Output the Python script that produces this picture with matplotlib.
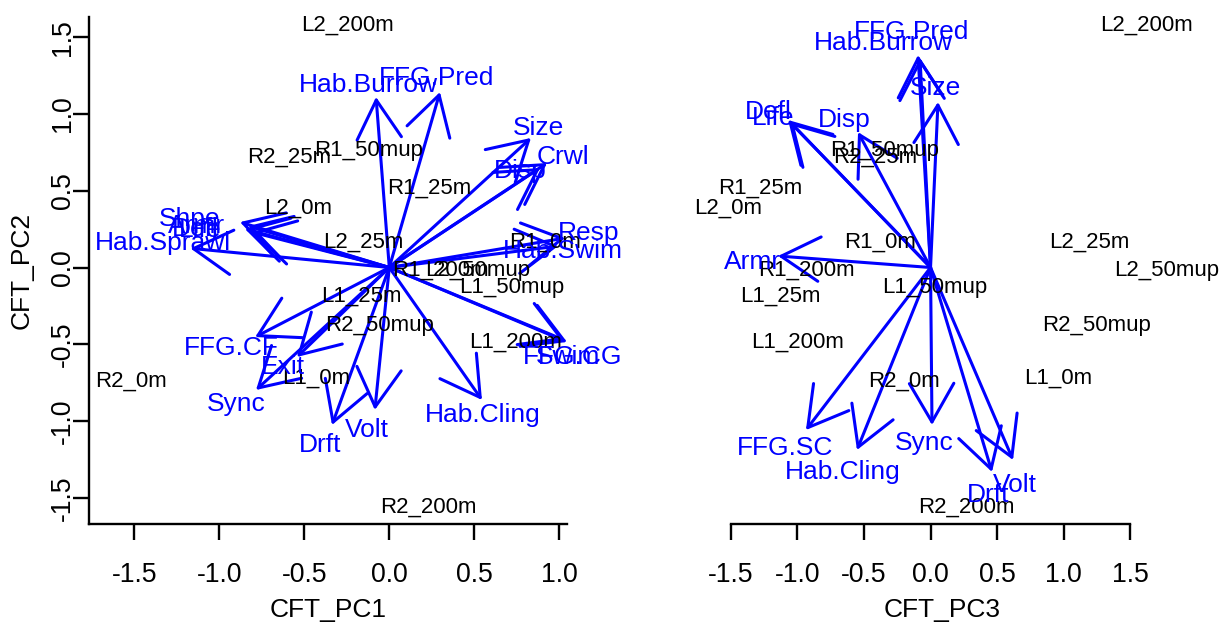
import matplotlib.pyplot as plt
from matplotlib.patches import FancyArrowPatch

plt.rcParams['font.family'] = ['Liberation Sans', 'DejaVu Sans']

# --- Site scores (shared PC2 on y) ---
sites = ["L2_200m", "R1_50mup", "R2_25m", "R1_25m", "L2_0m", "R1_0m", "L2_25m",
         "L2_50mup", "R1_200m", "L1_25m", "L1_50mup", "R2_50mup", "L1_200m",
         "L1_0m", "R2_0m", "R2_200m"]
site_pc1 = [-0.243, -0.119, -0.590, 0.234, -0.537, 0.916, -0.155,
            0.52, 0.30, -0.167, 0.722, -0.055, 0.740, -0.43, -1.519, 0.228]
site_pc2 = [1.580, 0.762, 0.720, 0.518, 0.388, 0.166, 0.166,
            -0.02, -0.02, -0.19, -0.130, -0.375, -0.488, -0.720, -0.739, -1.560]
site_pc3 = [1.617, -0.341, -0.416, -1.279, -1.519, -0.379, 1.189,
            1.774, -0.934, -1.129, 0.034, 1.249, -0.994, 0.956, -0.199, 0.266]

# --- Trait vectors, panel 1 (PC1 vs PC2) ---
traits1 = ["Hab.Burrow", "FFG.Pred", "Size", "Crwl", "Disp", "Resp", "Hab.Swim",
           "FFG.CG", "Swim", "Hab.Cling", "Volt", "Drft", "Sync", "Exit", "FFG.CF",
           "Hab.Sprawl", "Shpe", "Armr", "Life", "Defl"]
tip1_x = [-0.078, 0.298, 0.833, 0.928, 0.886, 1.034, 0.993,
          1.045, 1.028, 0.545, -0.085, -0.337, -0.784, -0.543, -0.789,
          -1.17, -0.878, -0.831, -0.808, -0.849]
tip1_y = [1.111, 1.143, 0.844, 0.681, 0.648, 0.192, 0.140,
          -0.485, -0.472, -0.863, -0.928, -1.026, -0.798, -0.583, -0.453,
          0.125, 0.296, 0.270, 0.231, 0.251]
lab1_x = [-0.126, 0.275, 0.875, 1.021, 0.769, 1.175, 1.022,
          1.08, 1.05, 0.551, -0.132, -0.408, -0.902, -0.625, -0.931,
          -1.331, -1.172, -1.131, -1.113, -1.143]
lab1_y = [1.189, 1.235, 0.909, 0.720, 0.629, 0.225, 0.107,
          -0.583, -0.583, -0.961, -1.059, -1.156, -0.889, -0.648, -0.524,
          0.160, 0.316, 0.270, 0.244, 0.251]

# --- Trait vectors, panel 2 (PC3 vs PC2) ---
traits2 = ["Armr", "Life", "Defl", "Disp", "Size", "Hab.Burrow", "FFG.Pred",
           "FFG.SC", "Hab.Cling", "Sync", "Drft", "Volt"]
tip2_x = [-1.144, -1.054, -1.069, -0.544, 0.056, -0.079, -0.094,
          -0.935, -0.552, 0.011, 0.461, 0.619]
tip2_y = [0.075, 0.948, 0.961, 0.882, 1.078, 1.365, 1.384,
          -1.059, -1.189, -1.026, -1.332, -1.254]
lab2_x = [-1.339, -1.182, -1.219, -0.649, 0.034, -0.356, -0.146,
          -1.092, -0.656, -0.049, 0.431, 0.634]
lab2_y = [0.036, 0.974, 1.013, 0.961, 1.169, 1.463, 1.534,
          -1.176, -1.332, -1.143, -1.482, -1.417]

fig = plt.figure(figsize=(12.28, 6.27), dpi=100)
W, H = 1228, 627
ax1 = fig.add_axes([89 / W, 1 - 524 / H, 478 / W, 507 / H])
ax2 = fig.add_axes([703 / W, 1 - 524 / H, 478 / W, 507 / H])

arrow_style = "->,head_length=0.866,head_width=0.5"


def draw_panel(ax, sx, tx, ty, lx, ly, names):
    for name, x, y in zip(sites, sx, site_pc2):
        ax.text(x, y, name, fontsize=16, ha="center", va="center", color="black")
    for name, x, y, ax_, ay_ in zip(names, tx, ty, lx, ly):
        ax.add_patch(FancyArrowPatch((0, 0), (x, y), arrowstyle=arrow_style,
                                     mutation_scale=32, color="blue", lw=2.2,
                                     shrinkA=0, shrinkB=0, capstyle="round",
                                     joinstyle="round"))
        ax.text(ax_, ay_, name, fontsize=19, ha="center", va="center", color="blue")


draw_panel(ax1, site_pc1, tip1_x, tip1_y, lab1_x, lab1_y, traits1)
draw_panel(ax2, site_pc3, tip2_x, tip2_y, lab2_x, lab2_y, traits2)

# --- Axes styling ---
ax1.set_xlim(-1.766, 1.045)
ax1.set_ylim(-1.671, 1.632)
ax2.set_xlim(-1.707, 1.879)
ax2.set_ylim(-1.671, 1.632)

for ax in (ax1, ax2):
    for s in ("top", "right"):
        ax.spines[s].set_visible(False)
    ax.spines["bottom"].set_linewidth(1.7)
    ax.spines["left"].set_linewidth(1.7)
    ax.tick_params(length=11.5, width=1.7, labelsize=19.2)
    ax.tick_params(axis="x", pad=16)
    ax.tick_params(axis="y", pad=-2)

ax1.set_xticks([-1.5, -1.0, -0.5, 0.0, 0.5, 1.0])
ax1.set_yticks([-1.5, -1.0, -0.5, 0.0, 0.5, 1.0, 1.5])
ax1.set_xticklabels(["-1.5", "-1.0", "-0.5", "0.0", "0.5", "1.0"])
ax1.set_yticklabels(["-1.5", "-1.0", "-0.5", "0.0", "0.5", "1.0", "1.5"],
                    rotation=90, va="center")
ax1.set_xlabel("CFT_PC1", fontsize=19, labelpad=7)
ax1.set_ylabel("CFT_PC2", fontsize=19, labelpad=12)

ax2.spines["left"].set_visible(False)
ax2.set_yticks([])
ax2.set_xticks([-1.5, -1.0, -0.5, 0.0, 0.5, 1.0, 1.5])
ax2.set_xticklabels(["-1.5", "-1.0", "-0.5", "0.0", "0.5", "1.0", "1.5"])
ax2.spines["bottom"].set_bounds(-1.5, 1.5)
ax2.set_xlabel("CFT_PC3", fontsize=19, labelpad=7)

fig.savefig("out.png", dpi=100)
